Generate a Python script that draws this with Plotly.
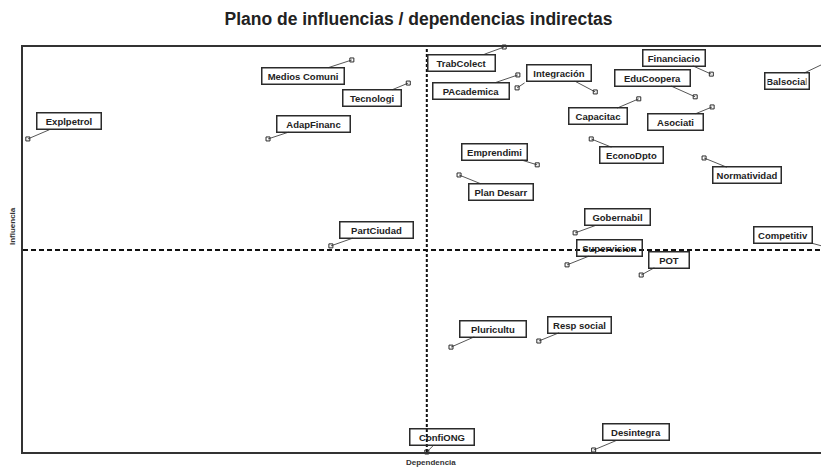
import plotly.graph_objects as go

# ---- data ----
variables = ["Explpetrol", "Medios Comuni", "Tecnologi", "AdapFinanc", "TrabColect",
             "PAcademica", "", "Integración", "Capacitac", "EduCoopera",
             "Financiacio", "Balsocial", "Asociati", "Emprendimi", "EconoDpto",
             "Normatividad", "Plan Desarr", "Gobernabil", "Supervision", "POT",
             "Competitiv", "PartCiudad", "Pluricultu", "Resp social", "ConfiONG",
             "Desintegra"]
dependencia = [0.6, 40.8, 47.8, 30.4, 59.7,
               61.4, 61.3, 71.0, 76.4, 83.4,
               85.4, 100.0, 85.5, 63.8, 70.5,
               84.5, 54.1, 68.5, 67.5, 76.7,
               100.0, 38.2, 53.1, 64.0, 50.1,
               70.8]
influencia = [77.3, 96.8, 91.1, 77.3, 100.0,
              93.1, 89.9, 88.9, 87.2, 87.7,
              93.3, 96.5, 85.2, 70.9, 77.3,
              72.6, 68.4, 54.1, 46.2, 43.7,
              50.4, 50.9, 25.9, 27.4, 0.0,
              0.5]
mean_dependencia = 50.1
mean_influencia = 49.9

title_text = "Plano de influencias / dependencias indirectas"
x_title = "Dependencia"
y_title = "Influencia"

# ---- label layout (pixel offsets of label boxes and their widths) ----
label_dx = [41, -49, -36, 45.5, -42.5, -47, 9, -36, -41, -42.5,
            -37, -42, -36.5, -42.5, 40.5, 43, 42, 42.5, 42.5, 28,
            -46, 45.5, 42, 40.5, 15, 42]
label_dy = [-17.5, 16, 15, -15, 15.5, 16, -6, -19, 17.5, -19,
            -16.5, 20, 15, -13, 16.5, 17.5, 17, -15.5, -17, -15.5,
            -12.5, -16, -18.5, -16.5, -15, -17.5]
label_w = [66, 84, 60, 75, 69, 78, 0, 66, 60, 77,
           64, 46, 57, 67, 65, 70, 66, 67, 67, 42,
           60, 75, 68, 65, 66, 68]

INK = "#2b2b2b"
FONT = "Liberation Sans, Arial, sans-serif"
BW, PAD = 1.5, 2

fig = go.Figure()
fig.add_trace(go.Scatter(
    x=dependencia, y=influencia, mode="markers",
    marker=dict(symbol="square-open", size=4, color=INK, line=dict(width=1, color=INK)),
    cliponaxis=False, hoverinfo="text", text=variables, showlegend=False))

annotations = []
for name, xv, yv, dx, dy, w in zip(variables, dependencia, influencia, label_dx, label_dy, label_w):
    a = dict(x=xv, y=yv, xref="x", yref="y", ax=dx, ay=dy, axref="pixel", ayref="pixel",
             text=name, showarrow=True, arrowhead=0, arrowwidth=0.8, arrowcolor=INK,
             font=dict(family=FONT, size=9.5, color="#222", weight="bold"))
    if name:
        a.update(bordercolor=INK, borderwidth=BW, borderpad=PAD, width=w - 2 * (BW + PAD),
                 align="center", bgcolor="rgba(0,0,0,0)")
    annotations.append(a)

annotations.append(dict(text=y_title, xref="paper", yref="paper", x=-0.0136, y=0.558,
                        textangle=-90, showarrow=False, xanchor="center", yanchor="middle",
                        font=dict(family=FONT, size=8, color="#333", weight="bold")))
annotations.append(dict(text=x_title, xref="paper", yref="paper", x=0.506, y=-0.0247,
                        showarrow=False, xanchor="center", yanchor="middle",
                        font=dict(family=FONT, size=8, color="#333", weight="bold")))

shapes = [
    dict(type="line", xref="x", yref="paper", x0=mean_dependencia, x1=mean_dependencia,
         y0=0, y1=1, line=dict(color="#111", width=2, dash="3px,2px"), layer="above"),
    dict(type="line", xref="paper", yref="y", x0=0, x1=1,
         y0=mean_influencia, y1=mean_influencia,
         line=dict(color="#111", width=2, dash="5px,3px"), layer="above"),
]

# page body has an 8px margin: the figure is sized/placed to compensate
fig.update_layout(
    width=821, height=460,
    margin=dict(l=15, r=0, t=39, b=16),
    paper_bgcolor="white", plot_bgcolor="white",
    title=dict(text=title_text, x=0.5, xanchor="center", y=0.976, yanchor="middle",
               font=dict(family=FONT, size=17.5, color="#222", weight="bold")),
    xaxis=dict(range=[0, 100], showgrid=False, zeroline=False, showticklabels=False,
               ticks="", showline=True, linecolor="#333", linewidth=2, mirror=True),
    yaxis=dict(range=[0, 100], showgrid=False, zeroline=False, showticklabels=False,
               ticks="", showline=True, linecolor="#333", linewidth=2),
    annotations=annotations, shapes=shapes,
)

fig.write_html("out.html")
